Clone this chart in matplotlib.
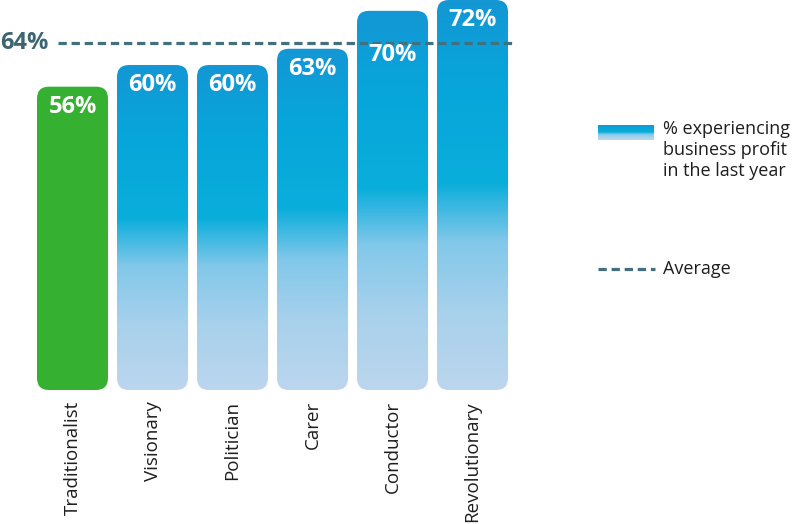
import numpy as np
import matplotlib
matplotlib.use("Agg")
import matplotlib.pyplot as plt
from matplotlib.patches import FancyBboxPatch
from matplotlib.colors import LinearSegmentedColormap
from matplotlib.lines import Line2D
import matplotlib.transforms as mtransforms

# Data
categories = ["Traditionalist", "Visionary", "Politician", "Carer", "Conductor", "Revolutionary"]
values = [56, 60, 60, 63, 70, 72]
value_labels = ["56%", "60%", "60%", "63%", "70%", "72%"]
average = 64
average_label = "64%"
legend_bar_text = "% experiencing\nbusiness profit\nin the last year"
legend_avg_text = "Average"

plt.rcParams["font.family"] = ["Open Sans", "DejaVu Sans"]

GREEN = "#36b030"
DASH_COLOR = "#43707e"
LABEL_COLOR = "#3c6572"

# vertical gradient used inside the blue bars (bottom -> top)
blue_cmap = LinearSegmentedColormap.from_list(
    "bars",
    [(0.0, "#bcd6ee"), (0.2, "#a8d1ec"), (0.38, "#82c8ea"), (0.47, "#3bb8e2"),
     (0.53, "#0aaeda"), (0.8, "#07a5db"), (1.0, "#1497d4")])

fig = plt.figure(figsize=(8, 5.24), dpi=100)

# axes placed so that bar centres are 80 px apart and baseline sits at y=390 px
ax = fig.add_axes([0, (524 - 390) / 524, 520 / 800, 390 / 524])
ax.set_xlim(-72.5 / 80, -72.5 / 80 + 520 / 80)
ax.set_ylim(0, 72)
ax.axis("off")

bar_w = 71 / 80
radius = 0.15
aspect = 80 / 5.42
grad = np.linspace(0, 1, 256).reshape(-1, 1)

for i, (cat, v, lab) in enumerate(zip(categories, values, value_labels)):
    x0 = i - bar_w / 2
    patch = FancyBboxPatch((x0, 0), bar_w, v,
                           boxstyle=f"round,pad=0,rounding_size={radius}",
                           mutation_aspect=aspect, linewidth=0,
                           facecolor=GREEN if i == 0 else "none")
    ax.add_patch(patch)
    if i > 0:
        im = ax.imshow(grad, cmap=blue_cmap, origin="lower", aspect="auto",
                       extent=[x0, x0 + bar_w, 0, v], zorder=1)
        im.set_clip_path(patch)

    # value label inside the top of the bar (Conductor sits below the average line)
    offset = -44 if cat == "Conductor" else -20
    ax.annotate(lab, xy=(i, v), xytext=(0, offset * 0.72), textcoords="offset points",
                ha="center", va="center", color="white", fontsize=17,
                fontweight="bold", zorder=5)

    # rotated category label under the bar
    ax.annotate(cat, xy=(i, 0), xytext=(0, -11 * 0.72), textcoords="offset points",
                ha="center", va="top", rotation=90, fontsize=13.5,
                color="#1e1e1e", annotation_clip=False)

# average line
ax.axhline(average, xmin=58 / 520, xmax=515 / 520, color=DASH_COLOR,
           linewidth=2.3, dashes=(2.6, 1.5), zorder=4)
trans = mtransforms.blended_transform_factory(ax.transAxes, ax.transData)
ax.text(0.0, average, average_label, transform=trans, ha="left", va="center",
        fontsize=17, fontweight="bold", color=LABEL_COLOR)

# legend drawn by hand on the right
sw = fig.add_axes([598 / 800, 1 - 140 / 524, 56 / 800, 15 / 524])
sw.imshow(grad[90:], cmap=blue_cmap, origin="lower", aspect="auto")
sw.axis("off")
fig.text(663 / 800, 1 - 120 / 524, legend_bar_text, ha="left", va="top",
         fontsize=13, color="#1e1e1e", linespacing=1.2)

fig.add_artist(Line2D([598 / 800, 655 / 800], [1 - 269 / 524, 1 - 269 / 524],
                      color=DASH_COLOR, linewidth=2.3, dashes=(2.6, 1.5)))
fig.text(663 / 800, 1 - 269 / 524, legend_avg_text, ha="left", va="center",
         fontsize=13, color="#1e1e1e")

fig.savefig("out.png", dpi=100)
